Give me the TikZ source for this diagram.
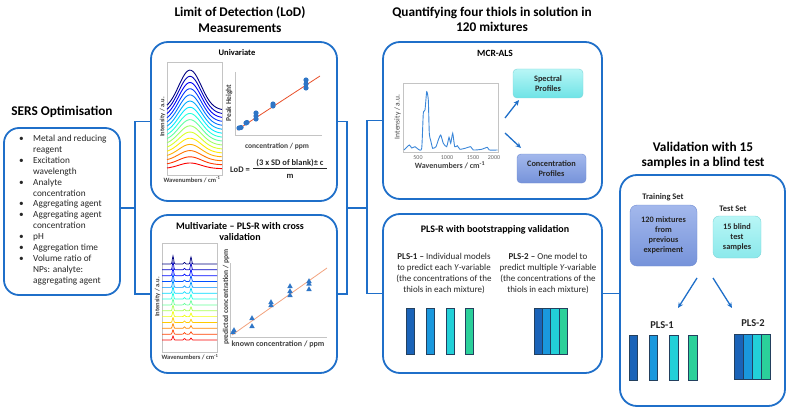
\documentclass[tikz,border=0pt]{standalone}
\usepackage{fontspec}
\setmainfont{Carlito}
\usetikzlibrary{arrows.meta}
\definecolor{bblue}{HTML}{1F6FC9}
\definecolor{axgray}{HTML}{C4C4C4}
\definecolor{axtext}{HTML}{404040}
\definecolor{ptblue}{HTML}{2E75C6}
\definecolor{redline}{HTML}{E8502A}
\definecolor{orline}{HTML}{F2A27E}
\definecolor{specline}{HTML}{3A86D8}
\definecolor{barA}{HTML}{1A63B8}
\definecolor{barB}{HTML}{1A98DD}
\definecolor{barC}{HTML}{22D0D8}
\definecolor{barD}{HTML}{2BD09A}
\definecolor{bardraw}{HTML}{23405F}
\definecolor{cyanT}{HTML}{B8F6F6}
\definecolor{cyanB}{HTML}{6EE3E6}
\definecolor{cyanD}{HTML}{7FD6D8}
\definecolor{purT}{HTML}{A3B8EC}
\definecolor{purB}{HTML}{7693DA}
\definecolor{purD}{HTML}{6F8CD2}
\begin{document}
\begin{tikzpicture}[x=1pt,y=-1pt,
 box/.style={draw=bblue, line width=1.8pt, rounded corners=17pt, inner sep=0pt},
 conn/.style={draw=bblue, line width=1.8pt},
 ttl/.style={font=\bfseries\fontsize{13.3}{15.5}\selectfont, align=center, inner sep=0pt},
 sub/.style={font=\bfseries\fontsize{10}{11.5}\selectfont, align=center, inner sep=0pt},
 axl/.style={font=\bfseries\fontsize{7.5}{8}\selectfont, text=axtext, inner sep=0pt},
 tick/.style={font=\fontsize{6}{7}\selectfont, text=axtext!80, inner sep=0pt},
 axis/.style={draw=axgray, line width=0.6pt},
 arr/.style={draw=bblue, line width=1.3pt, -{Stealth[length=5.5pt,width=5pt]}},
 bar/.style={draw=bardraw, line width=0.5pt},
 pbox/.style={rounded corners=4pt, inner sep=0pt, align=center, font=\bfseries\fontsize{8.3}{10}\selectfont, text=black!85},
 body/.style={font=\fontsize{9}{11}\selectfont, align=center, inner sep=0pt, text=black!85},
]
\useasboundingbox (0,0) rectangle (794,409);

% ---------- titles ----------
\node[ttl] (t1) at (62,112) {SERS Optimisation};
\node[ttl] (t2) at (240,19.5) {Limit of Detection (LoD)\\Measurements};
\node[ttl] (t3) at (492,19.5) {Quantifying four thiols in solution in\\120 mixtures};
\node[ttl] (t4) at (703,155.5) {Validation with 15\\samples in a blind test};

% ---------- boxes ----------
\node[box, rounded corners=15pt, minimum width=116pt, minimum height=167pt] (sers) at (62,211.5) {};
\node[box, minimum width=186pt, minimum height=159pt] (uni) at (244,121.5) {};
\node[box, minimum width=186pt, minimum height=158pt] (multi) at (244,294) {};
\node[box, minimum width=219pt, minimum height=157pt] (mcr) at (492.5,120.5) {};
\node[box, minimum width=219pt, minimum height=159pt] (plsr) at (492.5,293.5) {};
\node[box, minimum width=165pt, minimum height=231pt] (val) at (702.5,290.5) {};

% ---------- connectors ----------
\coordinate (b1) at (135,208);
\coordinate (b2) at (347,208);
\coordinate (b3) at (367,208);
\draw[conn] (sers.east |- b1) -- (b1);
\draw[conn] (uni.west) -| (b1) |- (multi.west);
\draw[conn] (uni.east) -| (b2) |- (multi.east);
\draw[conn] (b2) -- (b3);
\draw[conn] (mcr.west) -| (b3) |- (plsr.west);
\draw[conn] (plsr.east) -- (plsr.east -| val.west);

% ---------- SERS list ----------
\node[anchor=base west, inner sep=0pt, text=black!85] (list) at (19,141.5) {\fontsize{9.3}{10.9}\selectfont
\begin{tabular}[t]{@{}l@{}l@{}}
\makebox[14pt][l]{•} & Metal and reducing\\
 & reagent\\
\makebox[14pt][l]{•} & Excitation\\
 & wavelength\\
\makebox[14pt][l]{•} & Analyte\\
 & concentration\\
\makebox[14pt][l]{•} & Aggregating agent\\
\makebox[14pt][l]{•} & Aggregating agent\\
 & concentration\\
\makebox[14pt][l]{•} & pH\\
\makebox[14pt][l]{•} & Aggregation time\\
\makebox[14pt][l]{•} & Volume ratio of\\
 & NPs: analyte:\\
 & aggregating agent
\end{tabular}};

% ---------- Univariate ----------
\node[font=\bfseries\fontsize{8.5}{10}\selectfont, inner sep=0pt] (unit) at (237,53) {Univariate};
\draw[axis] (167,62) rectangle (222,175);
\foreach \i in {0,...,15}{
 \pgfmathsetmacro\tt{0.88-0.88*\i/15}
 \pgfmathsetmacro\jr{max(0,min(1,1.5-abs(4*\tt-3)))}
 \pgfmathsetmacro\jg{max(0,min(1,1.5-abs(4*\tt-2)))}
 \pgfmathsetmacro\jb{max(0,min(1,1.5-abs(4*\tt-1)))}
 \definecolor{jc}{rgb}{\jr,\jg,\jb}
 \draw[jc, line width=0.9pt] plot[domain=167:222, samples=45, smooth] (\x,{168.7-3.9*\i-(5.7+2.29*\i)*exp(-((\x-190)/16)*((\x-190)/16))});
}
\node[axl, font=\bfseries\fontsize{6.5}{7}\selectfont] (uwl) at (192,179.5) {Wavenumbers / cm\textsuperscript{-1}};
\node[axl, font=\bfseries\fontsize{6.5}{7}\selectfont, rotate=90] (uil) at (162.5,117) {Intensity / a.u.};
\draw[axis] (235,72) -- (235,135) -- (322,135);
\draw[redline, line width=0.8pt] (237,130) -- (320,76);
\foreach \p in {(239,128),(241,127.5),(246,123),(247,122.5),(256,119),(256,116),(256,113),(273,106),(273,104),(306,88),(306,84),(306,80)}
 \fill[ptblue] \p circle (2.6);
\node[axl, rotate=90] (uph) at (229,103) {Peak Height};
\node[axl] (ucl) at (277,146) {concentration / ppm};
\node[font=\bfseries\fontsize{8.5}{10}\selectfont, inner sep=0pt, text=black!85] (lod) at (240,169.5) {LoD =};
\node[font=\bfseries\fontsize{8.5}{10}\selectfont, inner sep=0pt, text=black!85] (num) at (290,162.5) {(3 x SD of blank)± c};
\node[font=\bfseries\fontsize{8.5}{10}\selectfont, inner sep=0pt, text=black!85] (den) at (290,176) {m};
\draw[black!85, line width=0.6pt] (253,168.5) -- (327,168.5);

% ---------- Multivariate ----------
\node[sub] (mult) at (240,231.5) {Multivariate – PLS-R with cross\\validation};
\draw[axis] (162,243) rectangle (217,352);
\foreach \i in {0,...,13}{
 \pgfmathsetmacro\tt{0.88-0.88*\i/13}
 \pgfmathsetmacro\jr{max(0,min(1,1.5-abs(4*\tt-3)))}
 \pgfmathsetmacro\jg{max(0,min(1,1.5-abs(4*\tt-2)))}
 \pgfmathsetmacro\jb{max(0,min(1,1.5-abs(4*\tt-1)))}
 \definecolor{jc}{rgb}{\jr,\jg,\jb}
 \draw[jc, line width=0.7pt] plot[domain=162:217, samples=111] (\x,{340-5.85*\i-(4+4*\i/13)*exp(-((\x-173)/0.9)*((\x-173)/0.9))-1.5*exp(-((\x-184.5)/0.9)*((\x-184.5)/0.9))-(2+5*\i/13)*exp(-((\x-191)/0.9)*((\x-191)/0.9))});
}
\node[axl, font=\bfseries\fontsize{6.5}{7}\selectfont] (mwl) at (190,357) {Wavenumbers / cm\textsuperscript{-1}};
\node[axl, font=\bfseries\fontsize{6.5}{7}\selectfont, rotate=90] (mil) at (157.5,297) {Intensity / a.u.};
\draw[axis] (230,263) -- (230,337) -- (327,337);
\draw[orline, line width=0.8pt] (232,335) -- (327,268);
\foreach \p in {(233,332),(234,330),(252,318),(252,326),(271,302),(271,305),(290,286),(290,291),(290,295),(309,281),(309,283.5),(309,289)}
 \fill[ptblue] \p ++(0,-2.8) -- ++(2.7,4.8) -- ++(-5.4,0) -- cycle;
\node[axl, rotate=90] (mpl) at (226,297) {predicted concentration / ppm};
\node[axl, font=\bfseries\fontsize{8}{9}\selectfont] (mkl) at (278,344) {known concentration / ppm};

% ---------- MCR-ALS ----------
\node[font=\bfseries\fontsize{9.5}{11}\selectfont, inner sep=0pt] (mcrt) at (495,53) {MCR-ALS};
\draw[axis] (403,83) rectangle (498,152);
\draw[specline, line width=0.9pt] plot[smooth, tension=0.35] coordinates {(404,150) (409.3,145) (411.7,148) (415,146.7) (418.3,149.3) (421.7,148.3) (423.3,113.3) (425,110) (426.7,91.7) (428.3,100) (429.3,133.3) (431,141.7) (432.7,148.3) (436,146.7) (438.3,140) (440.7,135) (443.3,143.3) (446.7,146.7) (449,137.3) (450.7,143.3) (452.7,133.3) (454.7,146.7) (457.3,145.7) (460,149.3) (465,148.3) (470.7,146.7) (473.3,150) (481.7,149.3) (487.3,147.3) (489.3,150) (497.5,150)};
\node[tick] (k1) at (418,157.5) {500};
\node[tick] (k2) at (447,157.5) {1000};
\node[tick] (k3) at (473,157.5) {1500};
\node[tick] (k4) at (494,157.5) {2000};
\node[axl, font=\bfseries\fontsize{8}{9}\selectfont] (mwn) at (450,165) {Wavenumbers / cm\textsuperscript{-1}};
\node[axl, font=\fontsize{7.5}{8}\selectfont, rotate=90] (min) at (397.5,117) {Intensity / a.u.};
\node[pbox, shade, top color=cyanT, bottom color=cyanB, draw=cyanD, minimum width=70pt, minimum height=29pt] (spec) at (548,83.5) {Spectral\\Profiles};
\node[pbox, shade, top color=purT, bottom color=purB, draw=purD, minimum width=69pt, minimum height=29pt] (conc) at (551.5,168.5) {Concentration\\Profiles};
\coordinate (ma1) at (505,118);
\coordinate (ma1e) at (519,100);
\coordinate (ma2) at (505,133);
\coordinate (ma2e) at (521,148);
\draw[arr] (ma1) -- (ma1e);
\draw[arr] (ma2) -- (ma2e);

% ---------- PLS-R ----------
\node[sub] (plst) at (495,230) {PLS-R with bootstrapping validation};
\node[body] (p1txt) at (444,273.5) {\textbf{PLS-1 –} Individual models\\to predict each \textit{Y}-variable\\(the concentrations of the\\thiols in each mixture)};
\node[body] (p2txt) at (548,273.5) {\textbf{PLS-2 –} One model to\\predict multiple \textit{Y}-variable\\(the concentrations of the\\thiols in each mixture)};
\filldraw[bar, fill=barA] (406,308) rectangle (414,354);
\filldraw[bar, fill=barB] (426,308) rectangle (434,354);
\filldraw[bar, fill=barC] (446,308) rectangle (454,354);
\filldraw[bar, fill=barD] (465,308) rectangle (473,354);
\filldraw[bar, fill=barA] (534,308) rectangle (542.25,354);
\filldraw[bar, fill=barB] (542.25,308) rectangle (550.5,354);
\filldraw[bar, fill=barC] (550.5,308) rectangle (558.75,354);
\filldraw[bar, fill=barD] (558.75,308) rectangle (567,354);

% ---------- Validation ----------
\node[font=\bfseries\fontsize{8.5}{10}\selectfont, inner sep=0pt, text=black!85] (trl) at (663,197) {Training Set};
\node[font=\bfseries\fontsize{8.5}{10}\selectfont, inner sep=0pt, text=black!85] (tsl) at (733,209) {Test Set};
\node[pbox, rounded corners=7pt, shade, top color=purT, bottom color=purB, draw=purD, minimum width=67pt, minimum height=61pt] (train) at (663.5,235.5) {120 mixtures\\from\\previous\\experiment};
\node[pbox, rounded corners=6pt, shade, top color=cyanT, bottom color=cyanB!80!white, draw=cyanD, minimum width=48pt, minimum height=42pt] (test) at (737,237) {15 blind\\test\\samples};
\coordinate (va1) at (697,278);
\coordinate (va1e) at (678,308);
\coordinate (va2) at (713,278);
\coordinate (va2e) at (732,308);
\draw[arr] (va1) -- (va1e);
\draw[arr] (va2) -- (va2e);
\node[font=\bfseries\fontsize{10.5}{12}\selectfont, inner sep=0pt, text=black!85] (vp1) at (662,325) {PLS-1};
\node[font=\bfseries\fontsize{10.5}{12}\selectfont, inner sep=0pt, text=black!85] (vp2) at (753,323) {PLS-2};
\filldraw[bar, fill=barA] (629,335) rectangle (637,380);
\filldraw[bar, fill=barB] (649,335) rectangle (657,380);
\filldraw[bar, fill=barC] (669,335) rectangle (678,380);
\filldraw[bar, fill=barD] (688,335) rectangle (697,380);
\filldraw[bar, fill=barA] (734,334) rectangle (743,379);
\filldraw[bar, fill=barB] (743,334) rectangle (752,379);
\filldraw[bar, fill=barC] (752,334) rectangle (761,379);
\filldraw[bar, fill=barD] (761,334) rectangle (770,379);
\end{tikzpicture}
\end{document}
